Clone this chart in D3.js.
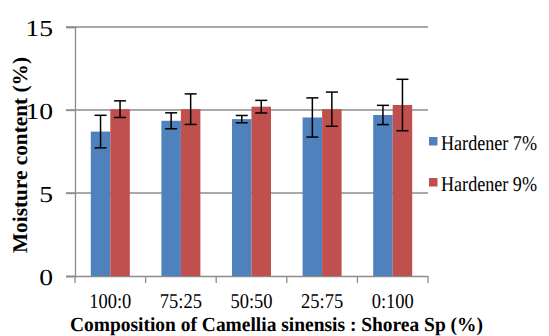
<!DOCTYPE html>
<html><head><meta charset="utf-8">
<script src="https://cdn.jsdelivr.net/npm/d3@7"></script>
<style>body{margin:0;background:#fff;}svg{display:block;}svg text{font-family:"Liberation Serif","Times New Roman",Times,serif !important;text-rendering:geometricPrecision;}</style>
</head><body>
<svg id="c" width="549" height="336" text-rendering="geometricPrecision"></svg>
<script>
const categories = ["100:0","75:25","50:50","25:75","0:100"];
const seriesNames = ["Hardener 7%","Hardener 9%"];
const hardener7 = [8.7, 9.35, 9.45, 9.55, 9.7];
const hardener9 = [10.05, 10.05, 10.2, 10.05, 10.3];
const err7 = [0.98, 0.48, 0.22, 1.18, 0.58];
const err9 = [0.5, 0.92, 0.38, 1.03, 1.55];
const yTicks = [0, 5, 10, 15];
const colors = ["#4F81BD", "#C0504D"];

const svg = d3.select("#c");
const mLeft = 75, mRight = 428, mTop = 27, mBottom = 276;
const y = d3.scaleLinear().domain([0, 15]).range([mBottom, mTop]);
const x0 = d3.scaleBand().domain(categories).range([mLeft, mRight]).padding(0);
const x1 = d3.scaleBand().domain(seriesNames).range([0, x0.bandwidth()]).paddingInner(0).paddingOuter(0.81);

function fit(sel, factor) {
  sel.each(function () {
    const w = this.getComputedTextLength();
    d3.select(this).attr("textLength", w * factor).attr("lengthAdjust", "spacingAndGlyphs");
  });
}

// gridlines
svg.append("g").selectAll("line").data(yTicks.filter(d => d > 0)).join("line")
  .attr("x1", mLeft - 9).attr("x2", mRight).attr("y1", d => y(d)).attr("y2", d => y(d))
  .attr("stroke", "#8c8c8c").attr("stroke-width", 1.3);

// y axis
const yAxis = d3.axisLeft(y).tickValues(yTicks).tickSize(9).tickPadding(14);
const gy = svg.append("g").attr("transform", `translate(${mLeft},0)`).call(yAxis);
gy.select(".domain").attr("stroke", "#8c8c8c").attr("stroke-width", 1.3);
gy.selectAll(".tick line").attr("stroke", "#8c8c8c").attr("stroke-width", 1.3);
gy.selectAll(".tick text").attr("font-size", 23).attr("fill", "#000")
  .attr("dy", "0.36em")
  .attr("transform", "scale(1.2,1)").attr("x", -22 / 1.2);

// x axis
const xAxis = d3.axisBottom(x0).tickSize(0).tickPadding(17);
const gx = svg.append("g").attr("transform", `translate(0,${mBottom})`).call(xAxis);
gx.select(".domain").attr("stroke", "#8c8c8c").attr("stroke-width", 1.3).attr("d", `M${mLeft - 9},0.5H${mRight}`);
gx.selectAll(".tick text").attr("font-size", 21).attr("fill", "#000").attr("dy", "0.71em").call(fit, 0.88);
// category boundary ticks
const bounds = categories.map(c => x0(c)).concat([mRight]);
svg.append("g").selectAll("line").data(bounds).join("line")
  .attr("x1", d => d).attr("x2", d => d).attr("y1", mBottom).attr("y2", mBottom + 7)
  .attr("stroke", "#8c8c8c").attr("stroke-width", 1.3);

// bars
const rows = categories.map((c, i) => ({c, vals: [
  {s: seriesNames[0], v: hardener7[i], e: err7[i], k: 0},
  {s: seriesNames[1], v: hardener9[i], e: err9[i], k: 1}]}));
const g = svg.append("g").selectAll("g").data(rows).join("g")
  .attr("transform", d => `translate(${x0(d.c)},0)`);
g.selectAll("rect").data(d => d.vals).join("rect")
  .attr("x", d => x1(d.s)).attr("width", x1.bandwidth())
  .attr("y", d => y(d.v)).attr("height", d => y(0) - y(d.v))
  .attr("fill", d => colors[d.k]);
// error bars
const eb = g.selectAll("g.eb").data(d => d.vals).join("g").attr("class", "eb")
  .attr("stroke", "#000").attr("stroke-width", 1.5);
const cx = d => x1(d.s) + x1.bandwidth() / 2;
eb.append("line").attr("x1", cx).attr("x2", cx)
  .attr("y1", d => y(d.v + d.e)).attr("y2", d => y(d.v - d.e));
eb.append("line").attr("x1", d => cx(d) - 6).attr("x2", d => cx(d) + 6)
  .attr("y1", d => y(d.v + d.e)).attr("y2", d => y(d.v + d.e));
eb.append("line").attr("x1", d => cx(d) - 6).attr("x2", d => cx(d) + 6)
  .attr("y1", d => y(d.v - d.e)).attr("y2", d => y(d.v - d.e));

// legend
const leg = svg.append("g").selectAll("g").data(seriesNames).join("g")
  .attr("transform", (d, i) => `translate(429,${137 + i * 41})`);
leg.append("rect").attr("width", 8.5).attr("height", 8.5).attr("fill", (d, i) => colors[i]);
leg.append("text").attr("x", 12).attr("y", 13).attr("font-size", 21).attr("fill", "#000")
  .attr("textLength", 96).attr("lengthAdjust", "spacingAndGlyphs").text(d => d);

// axis titles
svg.append("text").attr("x", 70).attr("y", 331).attr("font-size", 20).attr("font-weight", "bold")
  .attr("textLength", 413).attr("lengthAdjust", "spacingAndGlyphs")
  .text("Composition of Camellia sinensis : Shorea Sp (%)");
svg.append("text").attr("transform", "translate(27,253) rotate(-90)").attr("font-size", 21).attr("font-weight", "bold")
  .attr("textLength", 196).attr("lengthAdjust", "spacingAndGlyphs")
  .text("Moisture content (%)");
</script>
</body></html>
